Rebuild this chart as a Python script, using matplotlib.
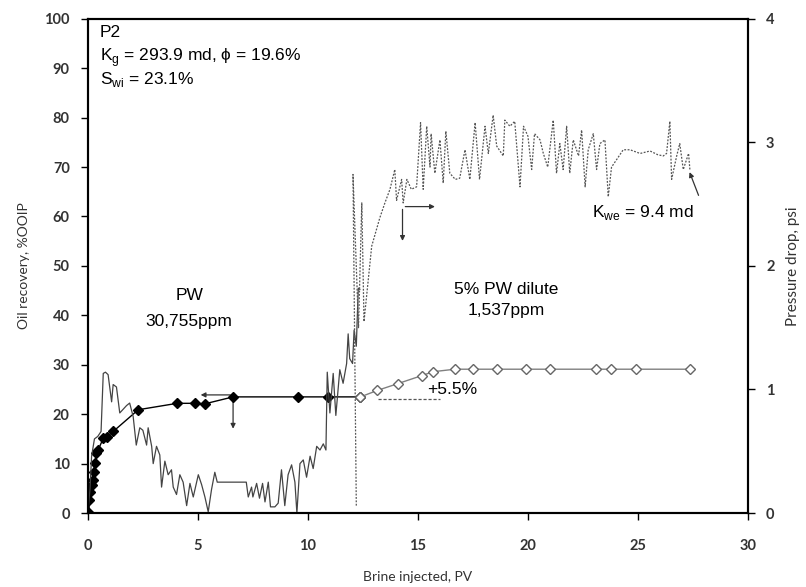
import matplotlib
matplotlib.use("Agg")
import matplotlib.pyplot as plt

# ------------------------------
# DATA
# ------------------------------

# oil recovery during PW flood (filled diamonds)
pw_pv = [0.06, 0.06, 0.09, 0.17, 0.22, 0.27, 0.32, 0.39, 0.47, 0.7, 0.85, 1.15,
         2.29, 4.06, 4.86, 5.32, 6.6, 9.56, 10.92, 12.39]
pw_rec = [0.0, 2.6, 4.3, 5.7, 6.7, 8.4, 10.1, 12.1, 12.8, 15.1, 15.4, 16.5,
          20.9, 22.2, 22.2, 22.1, 23.5, 23.5, 23.5, 23.5]

# oil recovery during 5% PW dilute flood (open diamonds)
dil_pv = [12.39, 13.15, 14.1, 15.17, 15.7, 16.68, 17.5, 18.6, 19.9, 21.0,
          23.1, 23.76, 24.9, 27.36]
dil_rec = [23.5, 24.8, 26.2, 27.8, 28.6, 29.1, 29.1, 29.1, 29.1, 29.1,
           29.1, 29.1, 29.1, 29.1]

# pressure drop, PW flood (solid)
dp_pw_pv = [0.0, 0.1, 0.17, 0.3, 0.45, 0.6, 0.7, 0.8, 0.92, 1.08, 1.15, 1.3,
            1.45, 1.76, 1.9, 2.06, 2.2, 2.36, 2.5, 2.67, 2.74, 2.9, 2.97, 3.12,
            3.27, 3.35, 3.5, 3.65, 3.8, 3.88, 4.03, 4.18, 4.33, 4.49, 4.64,
            4.79, 5.02, 5.17, 5.32, 5.47, 5.62, 5.77, 5.88, 7.2, 7.29, 7.44,
            7.5, 7.67, 7.8, 7.94, 8.05, 8.2, 8.3, 8.5, 8.65, 8.8, 8.95, 9.1,
            9.26, 9.41, 9.5, 9.64, 9.79, 9.94, 10.1, 10.24, 10.4, 10.55, 10.7,
            10.82, 10.88, 11.0, 11.15, 11.27, 11.45, 11.6, 11.76, 11.83, 11.9,
            12.03, 12.1, 12.2, 12.29, 12.36]
dp_pw = [0.0, 0.2, 0.46, 0.6, 0.62, 0.66, 1.13, 1.14, 1.12, 0.9, 1.04, 1.02,
         0.81, 0.87, 0.89, 0.78, 0.55, 0.69, 0.67, 0.55, 0.69, 0.54, 0.40, 0.54,
         0.47, 0.21, 0.42, 0.31, 0.35, 0.21, 0.15, 0.31, 0.25, 0.06, 0.24,
         0.13, 0.31, 0.23, 0.13, 0.01, 0.19, 0.33, 0.25, 0.25, 0.13, 0.21,
         0.13, 0.24, 0.12, 0.24, 0.09, 0.25, 0.05, 0.05, 0.08, 0.35, 0.06, 0.31,
         0.39, 0.25, 0.0, 0.40, 0.43, 0.29, 0.46, 0.36, 0.54, 0.51, 0.56,
         0.51, 1.14, 0.81, 1.13, 0.79, 1.16, 1.05, 1.21, 1.45, 1.25,
         1.21, 1.48, 1.35, 1.82, 1.81]

# pressure drop, 5% PW dilute flood (dotted)
dp_dil_pv = [12.2, 12.05, 12.3, 12.45, 12.55, 12.9, 13.27, 13.5, 13.73, 13.95,
             14.03, 14.26, 14.33, 14.5, 14.7, 14.94, 15.12, 15.24, 15.4, 15.55,
             15.6, 15.77, 16.0, 16.15, 16.27, 16.45, 16.7, 16.9, 17.14, 17.36,
             17.6, 17.8, 18.05, 18.2, 18.42, 18.58, 18.88, 18.95, 19.18, 19.4,
             19.64, 19.8, 20.0, 20.17, 20.3, 20.55, 20.7, 20.9, 21.15, 21.3,
             21.45, 21.6, 21.76, 21.9, 22.06, 22.3, 22.44, 22.6, 22.74, 22.97,
             23.12, 23.27, 23.5, 23.65, 23.8, 24.03, 24.33, 24.64, 25.1, 25.55,
             25.9, 26.15, 26.3, 26.45, 26.53, 26.76, 26.9, 27.06, 27.3, 27.36]
dp_dil = [0.06, 2.74, 1.5, 2.51, 1.55, 2.16, 2.39, 2.51, 2.62, 2.78,
          2.53, 2.70, 2.51, 2.70, 2.62, 2.64, 3.16, 2.62, 3.13, 2.80,
          3.07, 2.75, 3.02, 2.67, 3.09, 2.75, 2.70, 2.71, 2.94, 2.70,
          3.16, 2.70, 3.13, 2.91, 3.22, 2.97, 2.89, 3.18, 3.13, 3.17,
          2.64, 3.13, 3.05, 2.78, 3.07, 3.02, 2.91, 2.80, 3.18, 2.75,
          2.99, 2.78, 3.13, 2.75, 3.02, 2.89, 3.10, 2.64, 2.94, 3.07,
          2.78, 2.99, 3.02, 2.56, 2.80, 2.86, 2.94, 2.94, 2.91, 2.93,
          2.90, 2.89, 2.91, 3.17, 2.70, 2.89, 2.99, 2.78, 2.91, 2.78]

# +5.5% reference line
gain_pv = [13.2, 16.0]
gain_rec = [23.0, 23.0]

X_TICKS = [0, 5, 10, 15, 20, 25, 30]
Y_TICKS = [0, 10, 20, 30, 40, 50, 60, 70, 80, 90, 100]
Y2_TICKS = [0, 1, 2, 3, 4]

# ------------------------------
# PLOT
# ------------------------------

TXT = ["Liberation Sans", "DejaVu Sans"]
TICKFONT = "Lato"

fig = plt.figure(figsize=(8.06, 5.87), dpi=100)
ax = fig.add_axes([0.109, 0.126, 0.819, 0.842])
ax2 = ax.twinx()

ax.plot(pw_pv, pw_rec, color="black", lw=1.0, marker="D", ms=5.2,
        mfc="black", mec="black", zorder=5)
ax.plot(dil_pv, dil_rec, color="#808080", lw=1.0, marker="D", ms=4.8,
        mfc="white", mec="#666666", mew=1.0, zorder=5)
ax.plot(gain_pv, gain_rec, color="#555555", lw=0.9, ls=(0, (2.5, 1.5)))

ax2.plot(dp_pw_pv, dp_pw, color="#444444", lw=0.9)
ax2.plot(dp_dil_pv, dp_dil, color="#555555", lw=0.9, ls=(0, (1.5, 1.2)))

# arrows pointing to the axes used by each curve
arr = dict(arrowstyle="-|>", color="#333333", lw=0.9, mutation_scale=7)
ax.annotate("", xy=(5.0, 23.9), xytext=(6.6, 23.9), arrowprops=arr)
ax.annotate("", xy=(6.6, 16.5), xytext=(6.6, 23.9), arrowprops=arr)
ax2.annotate("", xy=(15.9, 2.48), xytext=(14.3, 2.48), arrowprops=arr)
ax2.annotate("", xy=(14.3, 2.18), xytext=(14.3, 2.48), arrowprops=arr)
ax2.annotate("", xy=(27.3, 2.78), xytext=(27.8, 2.55), arrowprops=arr)

ax.text(0.55, 97.2, "P2", fontsize=12.5, family=TXT, va="center")
ax.text(0.55, 92.2, r"K$_\mathregular{g}$ = 293.9 md, ϕ = 19.6%", fontsize=12.5,
        family=TXT, va="center")
ax.text(0.55, 87.8, r"S$_\mathregular{wi}$ = 23.1%", fontsize=12.5, family=TXT,
        va="center")
ax.text(4.6, 44.0, "PW", fontsize=12.5, family=TXT, ha="center", va="center")
ax.text(4.6, 38.7, "30,755ppm", fontsize=12.5, family=TXT, ha="center",
        va="center")
ax.text(19.0, 45.3, "5% PW dilute", fontsize=12.5, family=TXT, ha="center",
        va="center")
ax.text(19.0, 41.0, "1,537ppm", fontsize=12.5, family=TXT, ha="center",
        va="center")
ax.text(15.4, 24.9, "+5.5%", fontsize=12.5, family=TXT, va="center")
ax.text(22.9, 60.8, r"K$_\mathregular{we}$ = 9.4 md", fontsize=12.5,
        family=TXT, va="center")

ax.set_xlim(0, 30)
ax.set_ylim(0, 100)
ax2.set_ylim(0, 4)
ax.set_xticks(X_TICKS)
ax.set_yticks(Y_TICKS)
ax2.set_yticks(Y2_TICKS)

for a in (ax, ax2):
    for s in a.spines.values():
        s.set_linewidth(1.5)
        s.set_color("black")
    a.tick_params(direction="out", length=5, width=1.0, colors="black",
                  labelcolor="#333333", labelsize=10.5)
    for lab in a.get_xticklabels() + a.get_yticklabels():
        lab.set_family(TICKFONT)
        lab.set_fontweight("bold")
ax.tick_params(axis="x", pad=14)
ax.tick_params(axis="y", pad=8)
ax2.tick_params(axis="y", pad=8)

ax.set_xlabel("Brine injected, PV", family=TICKFONT, fontsize=10,
              color="#333333", labelpad=13)
ax.set_ylabel("Oil recovery, %OOIP", family=TICKFONT, fontsize=10,
              color="#333333", labelpad=10)
ax2.set_ylabel("Pressure drop, psi", family=TICKFONT, fontsize=11,
               color="#333333", labelpad=8)

fig.savefig("out.png", dpi=100)
